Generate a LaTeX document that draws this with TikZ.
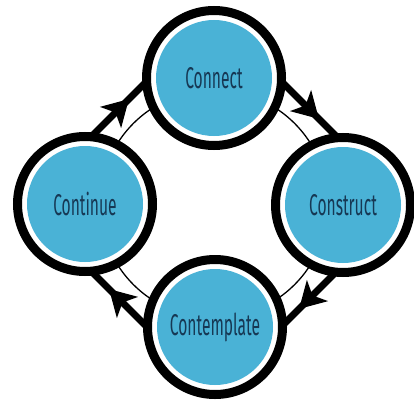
\documentclass[tikz,border=0pt]{standalone}
\usepackage{fontspec}
\newfontfamily\labfont[FakeStretch=0.52]{Fira Sans}
\usetikzlibrary{decorations.markings}
\definecolor{cblue}{RGB}{74,178,214}
\definecolor{ctext}{RGB}{22,56,84}
\tikzset{
  x=1pt, y=-1pt,
  ring/.style={circle, draw=black, line width=9pt, fill=white, minimum size=135pt, inner sep=0pt},
  core/.style={circle, fill=cblue, minimum size=116pt, inner sep=0pt, text=ctext, font=\labfont\fontsize{30}{30}\selectfont},
  flow/.style={line width=7pt, postaction={decorate},
    decoration={markings, mark=at position 0.5 with {\fill[black] (14,0) -- (-12,-15) -- (-5,0) -- (-12,15) -- cycle;}}},
  thin/.style={line width=1.3pt}
}
\begin{document}
\begin{tikzpicture}
\useasboundingbox (0,0) rectangle (414,401);
\coordinate (c) at (214,204);
\coordinate (vt) at (214,14);
\coordinate (vr) at (404,204);
\coordinate (vb) at (214,394);
\coordinate (vl) at (24,204);
\draw[thin] (c) circle (114);
\draw[flow] (vl) -- (vt);
\draw[flow] (vt) -- (vr);
\draw[flow] (vr) -- (vb);
\draw[flow] (vb) -- (vl);
\node[ring] (r1) at (214,78) {};
\node[ring] (r2) at (343,205) {};
\node[ring] (r3) at (215,327) {};
\node[ring] (r4) at (85,204) {};
\node[core] (connect) at (r1) {Connect};
\node[core] (construct) at (r2) {Construct};
\node[core] (contemplate) at (r3) {Contemplate};
\node[core] (continue) at (r4) {Continue};
\end{tikzpicture}
\end{document}
